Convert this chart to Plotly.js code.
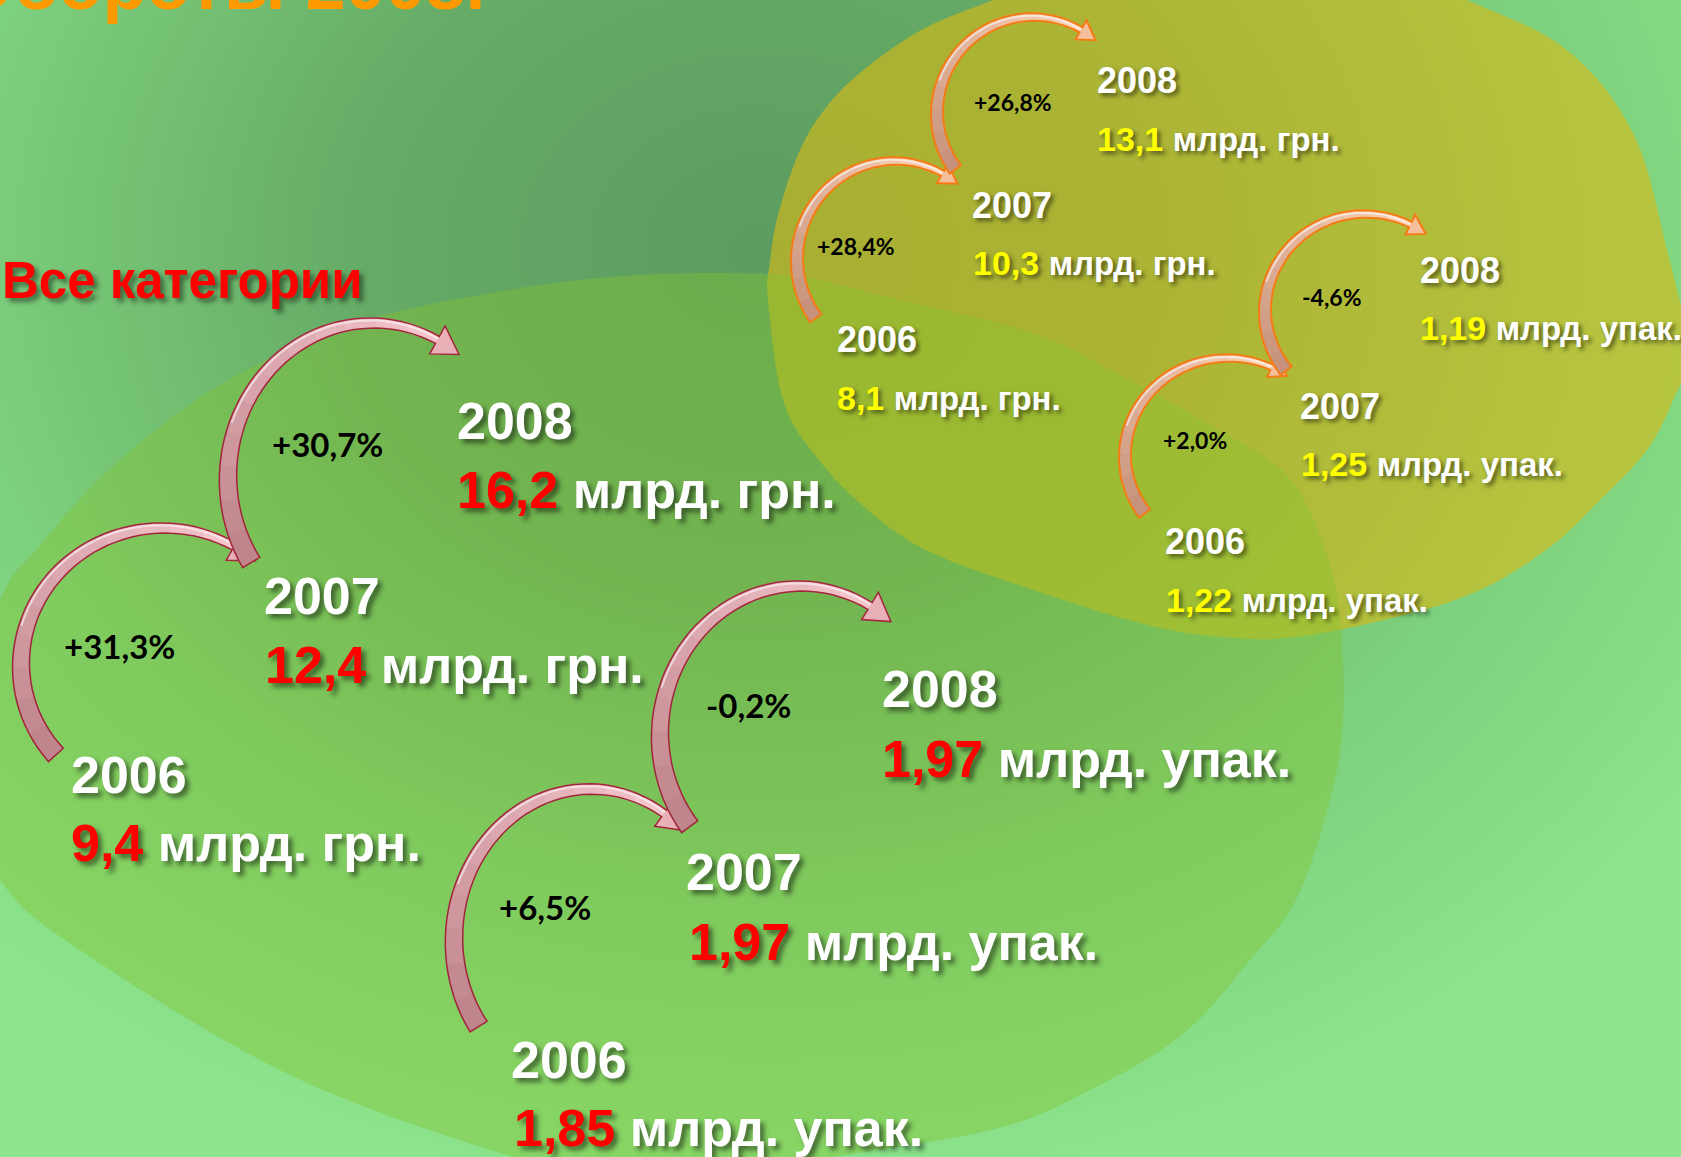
<!DOCTYPE html>
<html><head><meta charset="utf-8">
<script src="https://cdn.plot.ly/plotly-3.0.1.min.js"></script>
<style>
html,body{margin:0;padding:0;width:1681px;height:1157px;overflow:hidden;}
body{background: radial-gradient(ellipse 1150px 950px at 760px 250px, #5c9c60 0%, #66ab66 35%, #7dd07d 70%, #8ce48b 100%);}
#chart{width:1681px;height:1157px;}
</style></head><body><div id="chart"></div>
<script>
// ---------------- DATA ----------------
const years = ['2006', '2007', '2008'];
const allUAH = [9.4, 12.4, 16.2];          // Все категории, млрд. грн.
const allPacks = [1.85, 1.97, 1.97];       // Все категории, млрд. упак.
const segUAH = [8.1, 10.3, 13.1];          // сегмент, млрд. грн.
const segPacks = [1.22, 1.25, 1.19];       // сегмент, млрд. упак.
const allUAHGrowth = [31.3, 30.7];         // % к предыдущему году
const allPacksGrowth = [6.5, -0.2];
const segUAHGrowth = [28.4, 26.8];
const segPacksGrowth = [2.0, -4.6];
const unitUAH = 'млрд. грн.';
const unitPacks = 'млрд. упак.';
const categoryLabel = 'Все категории';
const titleText = 'Обороты 2008г';

// ---------------- STYLE / LAYOUT ----------------
const W = 1681, H = 1157;
const SANS = 'Liberation Sans, Arial, sans-serif';
const PCTF = 'Lato, Carlito, sans-serif';
const K_SANS = 0.3465, K_LATO = 0.387;

const BIG = {yearSize: 52, numSize: 52, unitSize: 52, numColor: '#ff0000', pctSize: 33,
  shadow: '4px 4px 5px rgba(0,0,0,0.5)',
  arrow: {w0: 20, w1: 8, headW: 32, headL: 26, tail: [189,129,137], head: [246,200,206], headFill: '#eab0b8', line: '#a0263a', lw: 1.5}};
const SMALL = {yearSize: 36, numSize: 34, unitSize: 33, numColor: '#ffff00', pctSize: 23,
  shadow: '3px 3px 4px rgba(0,0,0,0.5)',
  arrow: {w0: 14, w1: 6, headW: 22, headL: 18, tail: [196,143,120], head: [252,212,186], headFill: '#f6bf9c', line: '#f57c14', lw: 2}};

const groups = [
  {values: allUAH, dec: 1, unit: unitUAH, growth: allUAHGrowth, st: BIG,
   yearPos: [[69,793],[262,614],[455,439]], valPos: [[69,861],[263,683],[455,508]], pctPos: [[62,659],[270,457]],
   arcs: [{cx:163,cy:665,rx:142,ry:137,t0:139,t1:300},{cx:372,cy:478,rx:144,ry:155,t0:147,t1:297}]},
  {values: allPacks, dec: 2, unit: unitPacks, growth: allPacksGrowth, st: BIG,
   yearPos: [[509,1078],[684,890],[880,707]], valPos: [[512,1146],[687,960],[880,777]], pctPos: [[497,920],[704,718]],
   arcs: [{cx:590,cy:940,rx:136,ry:151,t0:145,t1:303},{cx:800,cy:735,rx:140,ry:149,t0:142,t1:300}]},
  {values: segUAH, dec: 1, unit: unitUAH, growth: segUAHGrowth, st: SMALL,
   yearPos: [[835,352],[970,218],[1095,93]], valPos: [[835,410],[971,275],[1095,151]], pctPos: [[815,255],[972,111]],
   arcs: [{cx:895,cy:260,rx:98,ry:99,t0:144,t1:299},{cx:1033,cy:113,rx:96,ry:96,t0:144,t1:300}]},
  {values: segPacks, dec: 2, unit: unitPacks, growth: segPacksGrowth, st: SMALL,
   yearPos: [[1163,554],[1298,419],[1418,283]], valPos: [[1164,612],[1299,476],[1418,340]], pctPos: [[1161,449],[1300,306]],
   arcs: [{cx:1228,cy:456,rx:103,ry:98,t0:144,t1:295},{cx:1365,cy:311,rx:100,ry:97,t0:142,t1:297}]}
];

// background blobs (outline points)
const upperBlob = [[768,300],[770,262],[778,215],[800,150],[828,105],[867,67],[925,28],[993,0],[1080,-35],[1230,-55],[1380,-35],[1467,0],[1567,50],[1633,133],[1667,250],[1688,350],[1673,400],[1647,450],[1600,500],[1550,547],[1480,590],[1400,616],[1297,637],[1221,637],[1144,624],[1030,589],[926,550],[862,505],[815,455],[783,400]];
const lowerBlob = [[-60,760],[0,600],[36,550],[112,467],[223,383],[357,323],[491,293],[600,278],[700,273],[800,277],[900,300],[1033,333],[1120,375],[1210,425],[1287,475],[1325,550],[1340,620],[1343,720],[1330,800],[1297,898],[1250,960],[1183,1034],[1090,1090],[991,1130],[800,1162],[650,1185],[513,1157],[290,1075],[80,950],[0,880]];

// ---------------- HELPERS ----------------
const fmtNum = (v, d) => v.toFixed(d).replace('.', ',');
const fmtPct = g => (g > 0 ? '+' : '') + g.toFixed(1).replace('.', ',') + '%';
const f = v => v.toFixed(1);

function smoothClosed(pts) {
  const n = pts.length;
  let d = `M ${f(pts[0][0])},${f(pts[0][1])}`;
  for (let i = 0; i < n; i++) {
    const p0 = pts[(i - 1 + n) % n], p1 = pts[i], p2 = pts[(i + 1) % n], p3 = pts[(i + 2) % n];
    const c1 = [p1[0] + (p2[0] - p0[0]) / 6, p1[1] + (p2[1] - p0[1]) / 6];
    const c2 = [p2[0] - (p3[0] - p1[0]) / 6, p2[1] - (p3[1] - p1[1]) / 6];
    d += ` C ${f(c1[0])},${f(c1[1])} ${f(c2[0])},${f(c2[1])} ${f(p2[0])},${f(p2[1])}`;
  }
  return d + ' Z';
}
const poly = pts => 'M ' + pts.map(p => f(p[0]) + ',' + f(p[1])).join(' L ') + ' Z';
const openLine = pts => 'M ' + pts.map(p => f(p[0]) + ',' + f(p[1])).join(' L ');
const mix = (a, b, t) => 'rgb(' + a.map((v, i) => Math.round(v + (b[i] - v) * t)).join(',') + ')';

function arrowShapes(a, s) {
  const rad = d => d * Math.PI / 180;
  const P = t => [a.cx + a.rx * Math.cos(t), a.cy + a.ry * Math.sin(t)];
  const N = t => { const nx = Math.cos(t) / a.rx, ny = Math.sin(t) / a.ry, l = Math.hypot(nx, ny); return [nx / l, ny / l]; };
  const t0 = rad(a.t0), t1 = rad(a.t1), n = 48;
  const outer = [], inner = [], hl = [];
  for (let i = 0; i <= n; i++) {
    const u = i / n, t = t0 + (t1 - t0) * u, w = s.w0 + (s.w1 - s.w0) * u;
    const p = P(t), nn = N(t);
    outer.push([p[0] + nn[0] * w / 2, p[1] + nn[1] * w / 2]);
    inner.push([p[0] - nn[0] * w / 2, p[1] - nn[1] * w / 2]);
    if (u > 0.35) hl.push([p[0] + nn[0] * (w / 2 - 2.5), p[1] + nn[1] * (w / 2 - 2.5)]);
  }
  const pb = P(t1), nb = N(t1);
  const speed = Math.hypot(a.rx * Math.sin(t1), a.ry * Math.cos(t1));
  const tip = P(t1 + s.headL / speed);
  const ho = [pb[0] + nb[0] * s.headW / 2, pb[1] + nb[1] * s.headW / 2];
  const hi = [pb[0] - nb[0] * s.headW / 2, pb[1] - nb[1] * s.headW / 2];
  const shapes = [];
  const segs = 12;
  for (let k = 0; k < segs; k++) {
    const i0 = Math.floor(k * n / segs), i1 = Math.min(n, Math.floor((k + 1) * n / segs) + 1);
    const pts = outer.slice(i0, i1 + 1).concat(inner.slice(i0, i1 + 1).reverse());
    const c = mix(s.tail, s.head, (k + 0.5) / segs);
    shapes.push({type: 'path', xref: 'x', yref: 'y', path: poly(pts), fillcolor: c, line: {color: c, width: 0.8}});
  }
  shapes.push({type: 'path', xref: 'x', yref: 'y', path: poly([ho, tip, hi]), fillcolor: s.headFill, line: {width: 0}});
  shapes.push({type: 'path', xref: 'x', yref: 'y', path: openLine(hl), line: {color: 'rgba(255,255,255,0.55)', width: 2}});
  const outline = outer.concat([ho, tip, hi]).concat(inner.slice().reverse());
  shapes.push({type: 'path', xref: 'x', yref: 'y', path: poly(outline), fillcolor: 'rgba(0,0,0,0)', line: {color: s.line, width: s.lw}});
  return shapes;
}

// ---------------- BUILD ----------------
const shapes = [
  {type: 'path', xref: 'x', yref: 'y', path: smoothClosed(upperBlob), fillcolor: 'rgba(215,186,22,0.62)', line: {width: 0}},
  {type: 'path', xref: 'x', yref: 'y', path: smoothClosed(lowerBlob), fillcolor: 'rgba(133,194,48,0.4)', line: {width: 0}}
];
const annotations = [];
const px = v => v / W, py = v => 1 - v / H;

annotations.push({x: px(498), y: py(9 - K_SANS * 72), xref: 'paper', yref: 'paper', xanchor: 'right', yanchor: 'middle', showarrow: false,
  text: titleText, font: {family: SANS, size: 72, color: '#ff9900', weight: 700}});
annotations.push({x: px(0), y: py(298 - K_SANS * 51), xref: 'paper', yref: 'paper', xanchor: 'left', yanchor: 'middle', showarrow: false,
  text: categoryLabel, font: {family: SANS, size: 51, color: '#ff0000', weight: 700, shadow: '4px 4px 5px rgba(0,0,0,0.45)'}});

groups.forEach(g => {
  const st = g.st;
  g.arcs.forEach(a => arrowShapes(a, st.arrow).forEach(s => shapes.push(s)));
  years.forEach((yr, i) => {
    annotations.push({x: g.yearPos[i][0], y: g.yearPos[i][1] - K_SANS * st.yearSize, xref: 'x', yref: 'y',
      xanchor: 'left', yanchor: 'middle', showarrow: false, text: yr,
      font: {family: SANS, size: st.yearSize, color: '#ffffff', weight: 700, shadow: st.shadow}});
    annotations.push({x: g.valPos[i][0], y: g.valPos[i][1] - K_SANS * st.numSize, xref: 'x', yref: 'y',
      xanchor: 'left', yanchor: 'middle', showarrow: false,
      text: `<span style="color:${st.numColor}">${fmtNum(g.values[i], g.dec)}</span> <span style="font-size:${st.unitSize}px">${g.unit}</span>`,
      font: {family: SANS, size: st.numSize, color: '#ffffff', weight: 700, shadow: st.shadow}});
  });
  g.growth.forEach((gr, i) => {
    annotations.push({x: g.pctPos[i][0], y: g.pctPos[i][1] - K_LATO * st.pctSize, xref: 'x', yref: 'y',
      xanchor: 'left', yanchor: 'middle', showarrow: false, text: fmtPct(gr),
      font: {family: PCTF, size: st.pctSize, color: '#000000', weight: 700}});
  });
});

const layout = {
  width: W, height: H, margin: {l: 0, r: 0, t: 0, b: 0, pad: 0},
  paper_bgcolor: 'rgba(0,0,0,0)', plot_bgcolor: 'rgba(0,0,0,0)', showlegend: false,
  xaxis: {range: [0, W], visible: false, fixedrange: true},
  yaxis: {range: [H, 0], visible: false, fixedrange: true},
  shapes: shapes, annotations: annotations
};
Plotly.newPlot('chart', [{type: 'scatter', x: [], y: [], hoverinfo: 'skip'}], layout, {staticPlot: true, displayModeBar: false});
</script></body></html>
